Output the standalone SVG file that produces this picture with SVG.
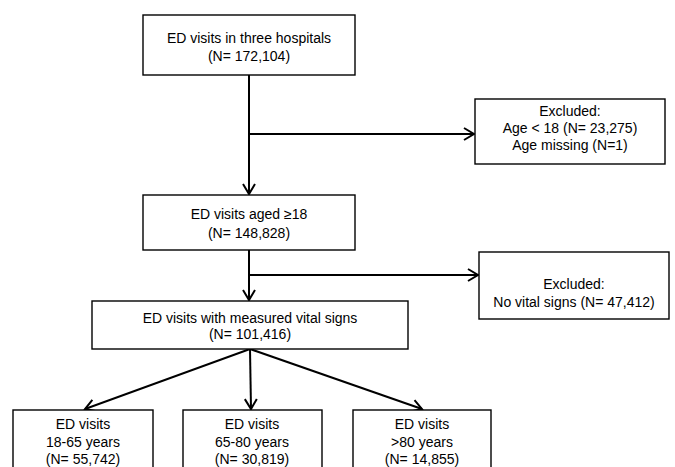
<svg xmlns="http://www.w3.org/2000/svg" width="675" height="467" viewBox="0 0 675 467">
<style>
.box{fill:#fff;stroke:#000;stroke-width:1.4}
.t{font-family:"Liberation Sans",Arial,sans-serif;font-size:14px;fill:#000;text-anchor:middle}
.c{fill:none;stroke:#000;stroke-width:2}
</style>
<defs>
<marker id="ah" markerUnits="userSpaceOnUse" markerWidth="16" markerHeight="16" viewBox="-12 -8 14 16" refX="0" refY="0" orient="auto">
<path d="M-10,-6 L0,0 L-10,6" fill="none" stroke="#000" stroke-width="2"/>
</marker>
</defs>
<rect width="675" height="467" fill="#fff"/>
<g id="connectors">
<path class="c" d="M249,75 V194" marker-end="url(#ah)"/>
<path class="c" d="M249,134 H474" marker-end="url(#ah)"/>
<path class="c" d="M249,250 V300" marker-end="url(#ah)"/>
<path class="c" d="M249,275 H478" marker-end="url(#ah)"/>
<path class="c" d="M250,349 L85,409" marker-end="url(#ah)"/>
<path class="c" d="M250,349 L251,409" marker-end="url(#ah)"/>
<path class="c" d="M250,349 L422,409" marker-end="url(#ah)"/>
</g>
<g id="n1">
<rect class="box" x="143" y="15" width="212" height="60"/>
<text class="t" x="249" y="43">ED visits in three hospitals</text>
<text class="t" x="249" y="61">(N= 172,104)</text>
</g>
<g id="n2">
<rect class="box" x="475" y="99" width="190" height="65"/>
<text class="t" x="570" y="116">Excluded:</text>
<text class="t" x="570" y="133">Age &lt; 18 (N= 23,275)</text>
<text class="t" x="570" y="150">Age missing (N=1)</text>
</g>
<g id="n3">
<rect class="box" x="143" y="195" width="212" height="55"/>
<text class="t" x="249" y="219">ED visits aged ≥18</text>
<text class="t" x="249" y="238">(N= 148,828)</text>
</g>
<g id="n4">
<rect class="box" x="479" y="252" width="190" height="67"/>
<text class="t" x="574" y="289">Excluded:</text>
<text class="t" x="574" y="307">No vital signs (N= 47,412)</text>
</g>
<g id="n5">
<rect class="box" x="92" y="301" width="316" height="48"/>
<text class="t" x="250" y="323">ED visits with measured vital signs</text>
<text class="t" x="250" y="339">(N= 101,416)</text>
</g>
<g id="n6">
<rect class="box" x="13" y="410" width="140" height="62"/>
<text class="t" x="83" y="429">ED visits</text>
<text class="t" x="83" y="447">18-65 years</text>
<text class="t" x="83" y="464">(N= 55,742)</text>
</g>
<g id="n7">
<rect class="box" x="183" y="410" width="139" height="62"/>
<text class="t" x="252" y="429">ED visits</text>
<text class="t" x="252" y="447">65-80 years</text>
<text class="t" x="252" y="464">(N= 30,819)</text>
</g>
<g id="n8">
<rect class="box" x="353" y="410" width="138" height="62"/>
<text class="t" x="422" y="429">ED visits</text>
<text class="t" x="422" y="447">&gt;80 years</text>
<text class="t" x="422" y="464">(N= 14,855)</text>
</g>
</svg>
